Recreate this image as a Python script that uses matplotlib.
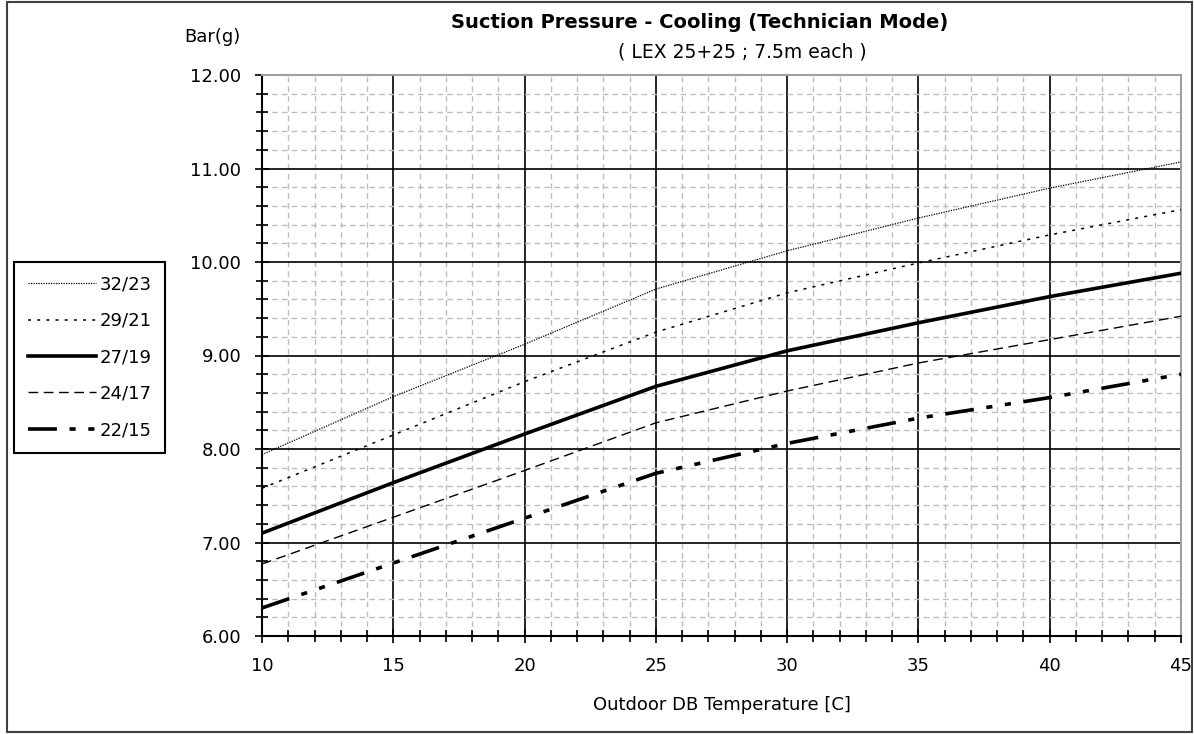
import matplotlib
matplotlib.use("Agg")
import matplotlib.pyplot as plt
from matplotlib.patches import Rectangle
from matplotlib.ticker import MultipleLocator, FormatStrFormatter

plt.rcParams['font.family'] = ['DejaVu Sans']

temps = [10, 15, 20, 25, 30, 35, 40, 45]
s_32_23 = [7.94, 8.56, 9.12, 9.71, 10.12, 10.47, 10.79, 11.07]
s_29_21 = [7.58, 8.15, 8.72, 9.25, 9.67, 9.99, 10.29, 10.56]
s_27_19 = [7.10, 7.64, 8.16, 8.67, 9.05, 9.35, 9.63, 9.88]
s_24_17 = [6.77, 7.27, 7.77, 8.28, 8.62, 8.92, 9.17, 9.42]
s_22_15 = [6.30, 6.78, 7.26, 7.74, 8.06, 8.33, 8.55, 8.80]
labels = ["32/23", "29/21", "27/19", "24/17", "22/15"]

W, H = 1194, 734
fig = plt.figure(figsize=(W / 100, H / 100), dpi=100)
ax = fig.add_axes([262 / W, 1 - 636 / H, (1181 - 262) / W, (636 - 75) / H])

ax.set_xlim(10, 45)
ax.set_ylim(6, 12)
ax.xaxis.set_major_locator(MultipleLocator(5))
ax.xaxis.set_minor_locator(MultipleLocator(1))
ax.yaxis.set_major_locator(MultipleLocator(1))
ax.yaxis.set_minor_locator(MultipleLocator(0.2))
ax.yaxis.set_major_formatter(FormatStrFormatter('%.2f'))

ax.grid(which='minor', color='#bdbdbd', linestyle=(0, (4, 3)), linewidth=1.0)
ax.grid(which='major', color='black', linestyle='-', linewidth=1.2)
ax.set_axisbelow(True)

ax.tick_params(which='both', direction='inout', top=False, right=False,
               labelsize=13, colors='black')
ax.tick_params(which='major', length=10, width=1.2)
ax.tick_params(which='minor', length=8, width=1.2)
ax.tick_params(axis='y', which='major', pad=10)
ax.tick_params(axis='x', which='major', pad=10)

for side in ['left', 'bottom']:
    ax.spines[side].set_color('black')
    ax.spines[side].set_linewidth(1.5)
for side in ['top', 'right']:
    ax.spines[side].set_color('#a0a0a0')
    ax.spines[side].set_linewidth(1.5)

styles = [
    dict(linestyle=(0, (1, 1)), linewidth=0.9),
    dict(linestyle=(0, (2, 4)), linewidth=1.1),
    dict(linestyle='-', linewidth=2.6),
    dict(linestyle=(0, (7, 4)), linewidth=1.0),
    dict(linestyle=(0, (8, 3.5, 1.7, 3.5, 1.7, 3.5)), linewidth=2.6),
]
series = [s_32_23, s_29_21, s_27_19, s_24_17, s_22_15]
handles = []
for ys, lab, st in zip(series, labels, styles):
    h, = ax.plot(temps, ys, color='black', label=lab, **st, zorder=3)
    handles.append(h)

ax.set_xlabel("Outdoor DB Temperature [C]", fontsize=13, labelpad=15)

fig.text(700 / W, 1 - 22 / H, "Suction Pressure - Cooling (Technician Mode)",
         ha='center', va='center', fontsize=14, fontweight='bold')
fig.text(742 / W, 1 - 52 / H, "( LEX 25+25 ; 7.5m each )",
         ha='center', va='center', fontsize=13.5)
fig.text(212 / W, 1 - 37 / H, "Bar(g)", ha='center', va='center', fontsize=13)

leg = fig.legend(handles=handles, labels=labels, loc='upper left',
                 bbox_to_anchor=(14 / W, 1 - 262 / H), fontsize=13,
                 handlelength=3.8, handletextpad=0.2, labelspacing=1.02,
                 borderpad=0.75, borderaxespad=0, fancybox=False,
                 edgecolor='black', framealpha=1)
leg.get_frame().set_linewidth(1.5)

fig.patches.append(Rectangle((7 / W, 2 / H), (1192 - 7) / W, (732 - 2) / H,
                             transform=fig.transFigure, fill=False,
                             edgecolor='#404040', linewidth=1.5))

fig.savefig("out.png", dpi=100)
